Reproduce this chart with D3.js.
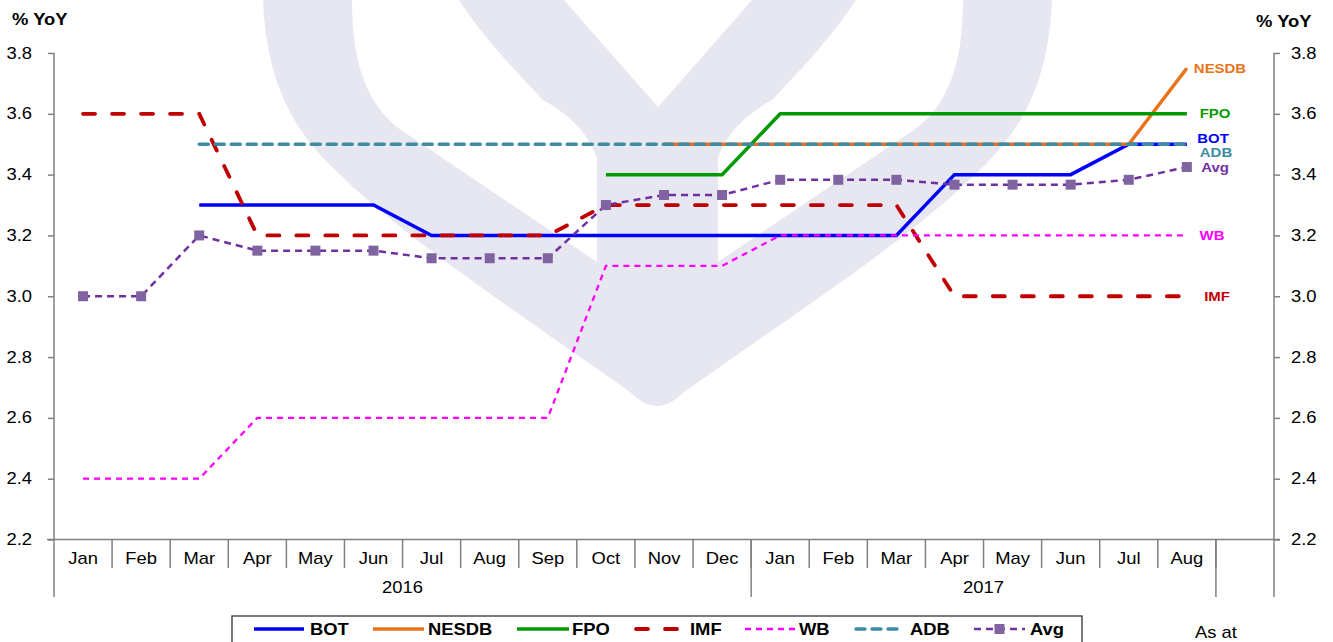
<!DOCTYPE html>
<html><head><meta charset="utf-8">
<script src="https://cdn.jsdelivr.net/npm/d3@7"></script>
<style>body{margin:0;background:#fff}svg{display:block}</style>
</head><body><svg id="c" width="1333" height="642"></svg>
<script>
const months = ["Jan","Feb","Mar","Apr","May","Jun","Jul","Aug","Sep","Oct","Nov","Dec","Jan","Feb","Mar","Apr","May","Jun","Jul","Aug"];
const yearLabels = ["2016","2017"];
const yearSpans = [12, 8];
const yTicks = [2.2,2.4,2.6,2.8,3.0,3.2,3.4,3.6,3.8];
const seriesNames = ["BOT","NESDB","FPO","IMF","WB","ADB","Avg"];
const bot   = [null,null,3.3,3.3,3.3,3.3,3.2,3.2,3.2,3.2,3.2,3.2,3.2,3.2,3.2,3.4,3.4,3.4,3.5,3.5];
const nesdb = [null,null,null,null,null,null,null,null,null,null,3.5,3.5,3.5,3.5,3.5,3.5,3.5,3.5,3.5,3.75];
const fpo   = [null,null,null,null,null,null,null,null,null,3.4,3.4,3.4,3.6,3.6,3.6,3.6,3.6,3.6,3.6,3.6];
const imf   = [3.6,3.6,3.6,3.2,3.2,3.2,3.2,3.2,3.2,3.3,3.3,3.3,3.3,3.3,3.3,3.0,3.0,3.0,3.0,3.0];
const wb    = [2.4,2.4,2.4,2.6,2.6,2.6,2.6,2.6,2.6,3.1,3.1,3.1,3.2,3.2,3.2,3.2,3.2,3.2,3.2,3.2];
const adb   = [null,null,3.5,3.5,3.5,3.5,3.5,3.5,3.5,3.5,3.5,3.5,3.5,3.5,3.5,3.5,3.5,3.5,3.5,3.5];
const avg   = [3.0,3.0,3.2,3.15,3.15,3.15,3.125,3.125,3.125,3.3,3.333,3.333,3.383,3.383,3.383,3.367,3.367,3.367,3.383,3.425];
const seriesValues = [bot, nesdb, fpo, imf, wb, adb, avg];

const styles = [
  {color:"#0000FF", w:3.5, dash:null, cap:"butt"},
  {color:"#E8731A", w:3.5, dash:null, cap:"butt"},
  {color:"#009A00", w:3.5, dash:null, cap:"butt"},
  {color:"#C00000", w:3.8, dash:"12,17", cap:"round"},
  {color:"#FF00FF", w:2.3, dash:"6,5", cap:"butt"},
  {color:"#3C8CA3", w:3.5, dash:"9,7", cap:"round"},
  {color:"#7030A0", w:2.5, dash:"7,5", cap:"butt"}
];
const labelColors = ["#0000FF","#E8731A","#009A00","#C00000","#FF00FF","#3C8CA3","#7030A0"];
const labelDy = [-6,0,0,0,0,8,0];
const labelDx = [-2,5,0,2,-3,1,0];

const svg = d3.select("#c");
const SX = 1.15;
const FONT = "Liberation Sans, Arial, sans-serif";
function txt(x, y, s, o) {
  o = o || {};
  return svg.append("text")
    .attr("transform", `translate(${x},${y}) scale(${SX},1)`)
    .attr("text-anchor", o.anchor || "middle")
    .attr("dominant-baseline", "central")
    .attr("font-family", FONT)
    .attr("font-size", o.size || 16)
    .attr("font-weight", o.bold ? "bold" : "normal")
    .attr("fill", o.color || "#000")
    .text(s);
}

// watermark
svg.append("path")
  .attr("d", "M263,0 C266,70 285,120 330,165 C400,235 500,300 630,392 Q657,420 684,392 C815,300 915,235 985,165 C1030,120 1049,70 1052,0 L963,0 C963,70 945,112 905,136 L718,262 L718,158 C728,130 750,112 772,100 C800,70 830,40 856,0 L752,0 L658,107 L564,0 L459,0 C485,40 515,70 543,100 C565,112 587,130 597,158 L597,262 L410,136 C370,112 352,70 352,0 Z")
  .attr("fill", "#E7E7F1");

const pL = 54, pR = 1274, pT = 53, pB = 539.5;
const x = d3.scaleBand().domain(d3.range(21)).range([pL, pR]).padding(0);
const y = d3.scaleLinear().domain([2.2, 3.8]).range([pB, pT]);
const cx = i => x(i) + x.bandwidth() / 2;
const axisColor = "#808080";

// left axis
const ya = svg.append("g").attr("transform", `translate(${pL},0)`)
  .call(d3.axisLeft(y).tickValues(yTicks).tickSize(6).tickFormat(""));
ya.select(".domain").remove();
ya.selectAll("line").attr("stroke", axisColor).attr("stroke-width", 1.5);
svg.append("line").attr("x1", pL).attr("x2", pL).attr("y1", pT).attr("y2", 597).attr("stroke", axisColor).attr("stroke-width", 1.5);
yTicks.forEach(v => txt(32, y(v), d3.format(".1f")(v), {anchor:"end", size:16}));

// right axis
const yb = svg.append("g").attr("transform", `translate(${pR},0)`)
  .call(d3.axisRight(y).tickValues(yTicks).tickSize(6).tickFormat(""));
yb.select(".domain").remove();
yb.selectAll("line").attr("stroke", axisColor).attr("stroke-width", 1.5);
svg.append("line").attr("x1", pR).attr("x2", pR).attr("y1", pT).attr("y2", 597).attr("stroke", axisColor).attr("stroke-width", 1.5);
yTicks.forEach(v => txt(1291, y(v), d3.format(".1f")(v), {anchor:"start", size:16}));

txt(12, 19, "% YoY", {anchor:"start", bold:true, size:16});
txt(1256, 21, "% YoY", {anchor:"start", bold:true, size:16});

// x axis
svg.append("line").attr("x1", 47).attr("x2", pR + 6).attr("y1", pB).attr("y2", pB).attr("stroke", axisColor).attr("stroke-width", 1.5);
const xa = svg.append("g").attr("transform", `translate(0,${pB})`)
  .call(d3.axisBottom(x).tickSize(0).tickFormat(""));
xa.select(".domain").remove();
xa.selectAll("line").remove();
d3.range(1, 21).forEach(i => {
  svg.append("line").attr("x1", x(i)).attr("x2", x(i)).attr("y1", pB).attr("y2", 568).attr("stroke", axisColor).attr("stroke-width", 1.5);
});
months.forEach((m, i) => txt(cx(i), 558, m, {size:16}));
let start = 0;
yearLabels.forEach((yl, k) => {
  const end = start + yearSpans[k];
  const x0 = x(start), x1 = x(end);
  svg.append("line").attr("x1", x1).attr("x2", x1).attr("y1", pB).attr("y2", 597).attr("stroke", axisColor).attr("stroke-width", 1.5);
  txt((x0 + x1) / 2, 587, yl, {size:16});
  start = end;
});

// series
const line = d3.line().defined(d => d.v != null).x(d => cx(d.i)).y(d => y(d.v));
seriesValues.forEach((vals, k) => {
  const st = styles[k];
  const data = vals.map((v, i) => ({i, v}));
  svg.append("path").datum(data).attr("d", line)
    .attr("fill", "none").attr("stroke", st.color).attr("stroke-width", st.w)
    .attr("stroke-dasharray", st.dash).attr("stroke-linecap", st.cap).attr("stroke-linejoin", "miter");
  if (k === 6) {
    svg.selectAll(null).data(data.filter(d => d.v != null)).enter().append("rect")
      .attr("x", d => cx(d.i) - 5).attr("y", d => y(d.v) - 5).attr("width", 10).attr("height", 10)
      .attr("fill", "#8064A2");
  }
  const last = vals[vals.length - 1];
  txt(1215 + labelDx[k], y(last) + labelDy[k], seriesNames[k], {bold:true, size:13, color:labelColors[k]});
});

// legend
svg.append("rect").attr("x", 232).attr("y", 616).attr("width", 850).attr("height", 40)
  .attr("fill", "none").attr("stroke", "#333").attr("stroke-width", 1.3);
const legPos = [[254,304,310],[373,424,428],[517,569,572],[636,680,690],[745,796,799],[856,899,910],[974,1025,1030]];
seriesNames.forEach((n, k) => {
  const st = styles[k];
  const [a, b, t] = legPos[k];
  svg.append("line").attr("x1", a).attr("x2", b).attr("y1", 629).attr("y2", 629)
    .attr("stroke", st.color).attr("stroke-width", st.w).attr("stroke-dasharray", st.dash).attr("stroke-linecap", st.cap);
  if (k === 6) svg.append("rect").attr("x", (a + b) / 2 - 5).attr("y", 624).attr("width", 10).attr("height", 10).attr("fill", "#8064A2");
  txt(t, 629, n, {anchor:"start", bold:true, size:16});
});
txt(1195, 632, "As at", {anchor:"start", size:16});
</script></body></html>
